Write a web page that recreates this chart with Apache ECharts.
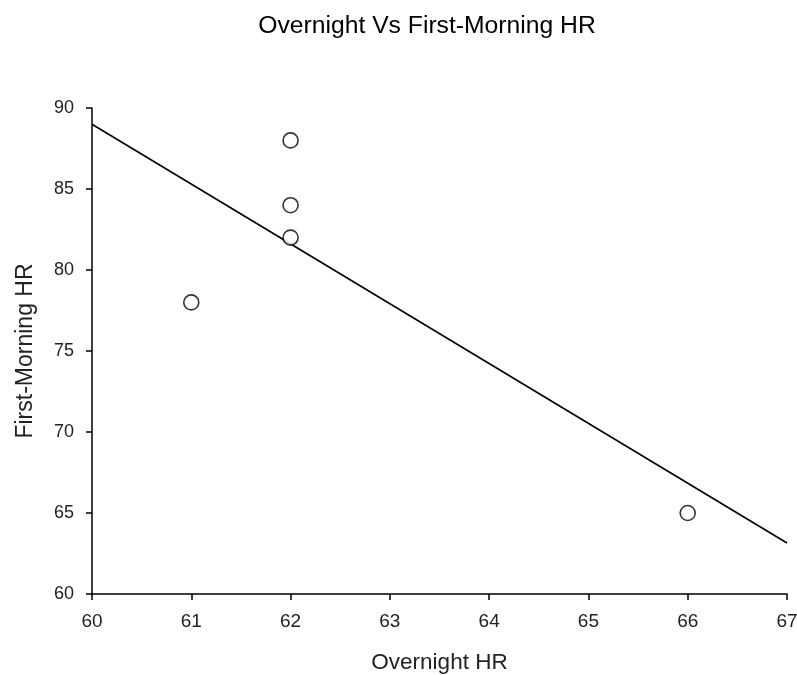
<!DOCTYPE html>
<html>
<head>
<meta charset="utf-8">
<script src="https://cdn.jsdelivr.net/npm/echarts@6/dist/echarts.min.js"></script>
<style>html,body{margin:0;padding:0;background:#fff}#c{width:797px;height:675px}</style>
</head>
<body>
<div id="c"></div>
<script>
var overnightHR = [61, 62, 62, 62, 66];
var morningHR = [78, 88, 84, 82, 65];
var fitX = [60, 67];
var fitY = [89.0, 63.15];
var xTicks = [60, 61, 62, 63, 64, 65, 66, 67];
var yTicks = [60, 65, 70, 75, 80, 85, 90];

var pts = overnightHR.map(function (x, i) { return [x, morningHR[i]]; });
var fit = fitX.map(function (x, i) { return [x, fitY[i]]; });
var font = 'Liberation Sans, Arial, sans-serif';

var chart = echarts.init(document.getElementById('c'), null, {renderer: 'canvas'});
chart.setOption({
  animation: false,
  backgroundColor: '#fff',
  title: {
    text: 'Overnight Vs First-Morning HR',
    left: 422, top: 9, textAlign: 'center',
    textStyle: {fontFamily: font, fontSize: 24.7, fontWeight: 'normal', color: '#000'}
  },
  grid: {left: 92, top: 108, right: 10, bottom: 81, containLabel: false, outerBoundsMode: 'none'},
  xAxis: {
    type: 'value', min: xTicks[0], max: xTicks[xTicks.length - 1], interval: 1,
    name: 'Overnight HR', nameLocation: 'middle', nameGap: 57,
    nameTextStyle: {fontFamily: font, fontSize: 22.5, color: '#222'},
    axisLine: {show: true, onZero: false, lineStyle: {color: '#000', width: 1.5}},
    axisTick: {show: true, length: 6, lineStyle: {color: '#000', width: 1.5}},
    axisLabel: {fontFamily: font, fontSize: 19, color: '#222', margin: 18},
    splitLine: {show: false}
  },
  yAxis: {
    type: 'value', min: yTicks[0], max: yTicks[yTicks.length - 1], interval: 5,
    name: 'First-Morning HR', nameLocation: 'middle', nameGap: 55, nameRotate: 90,
    nameTextStyle: {fontFamily: font, fontSize: 23, color: '#222'},
    axisLine: {show: true, onZero: false, lineStyle: {color: '#000', width: 1.5}},
    axisTick: {show: true, length: 6, lineStyle: {color: '#000', width: 1.5}},
    axisLabel: {fontFamily: font, fontSize: 18, color: '#222', margin: 18},
    splitLine: {show: false}
  },
  series: [
    {
      type: 'line', data: fit, showSymbol: false, symbol: 'none',
      lineStyle: {color: '#000', width: 1.6}, z: 2
    },
    {
      type: 'scatter', data: pts, symbol: 'circle', symbolSize: 15,
      itemStyle: {color: '#fff', borderColor: '#000', borderWidth: 1.6}, z: 3
    }
  ]
});
</script>
</body>
</html>
